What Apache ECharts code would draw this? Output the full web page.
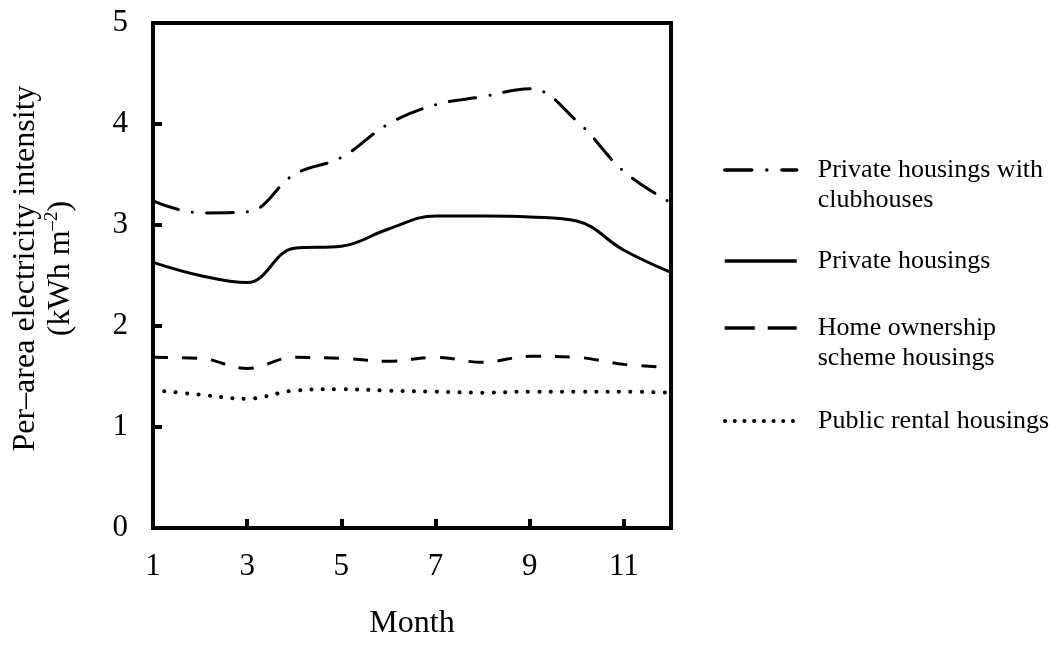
<!DOCTYPE html>
<html><head><meta charset="utf-8">
<script src="https://cdn.jsdelivr.net/npm/echarts@6/dist/echarts.min.js"></script>
<style>html,body{margin:0;padding:0;background:#fff}#c{width:1063px;height:645px}</style>
</head><body><div id="c"></div>
<script>
const months = ['1','2','3','4','5','6','7','8','9','10','11','12'];
const clubhouse = [3.24,3.12,3.13,3.50,3.67,4.00,4.19,4.27,4.35,4.03,3.53,3.22];
const privateH = [2.63,2.50,2.43,2.77,2.79,2.96,3.09,3.09,3.08,3.04,2.75,2.53];
const hos = [1.69,1.68,1.58,1.69,1.68,1.65,1.69,1.64,1.70,1.69,1.62,1.59];
const prh = [1.365,1.32,1.28,1.36,1.375,1.36,1.35,1.34,1.35,1.35,1.35,1.34];
const names = ['Private housings with clubhouses','Private housings','Home ownership scheme housings','Public rental housings'];
const legendLabels = [['Private housings with','clubhouses'],['Private housings'],['Home ownership','scheme housings'],['Public rental housings']];

const FONT = 'Liberation Serif';
const chart = echarts.init(document.getElementById('c'), null, {renderer:'canvas'});
const lineW = 3;
const styles = [
  {type:[27,14,0.1,14], cap:'round', width:lineW},
  {type:'solid', cap:'butt', width:lineW},
  {type:[15,14], cap:'butt', width:lineW},
  {type:[0.1,11.3], cap:'round', width:4}
];
const legendStyles = [
  {type:[27,15,0.1,15], cap:'round', width:3.5, color:'#000'},
  {type:'solid', cap:'butt', width:3.5, color:'#000'},
  {type:[30,13], cap:'butt', width:3.5, color:'#000'},
  {type:[0.1,9.6], cap:'round', width:4, color:'#000'}
];
const datas = [clubhouse, privateH, hos, prh];
const LH = 30;
// icon centre y for each legend entry
const legendCentres = [165, 256, 323, 416];
const legends = names.map((n,i)=>{
  const lines = legendLabels[i];
  const txt = lines.length > 1 ? '\n' + lines.join('\n') : lines[0];
  const h = lines.length > 1 ? 3*LH : LH;
  return {
    data:[n], left:718, top:legendCentres[i] - h/2, orient:'vertical',
    itemWidth:72, itemHeight:24, itemGap:0,
    formatter: ()=>txt,
    itemStyle:{opacity:0},
    lineStyle: legendStyles[i],
    textStyle:{fontFamily:FONT, fontSize:26, color:'#000', lineHeight:LH, padding:[0,0,0,16]},
    selectedMode:false
  };
});
chart.setOption({
  animation:false,
  backgroundColor:'#fff',
  grid:{left:153, top:23, width:518, height:511, show:true, borderColor:'#000', borderWidth:4, containLabel:false},
  legend: legends,
  xAxis:{
    type:'category', data:months, boundaryGap:false,
    name:'Month', nameLocation:'middle', nameGap:80,
    nameTextStyle:{fontFamily:FONT, fontSize:32, color:'#000'},
    axisLine:{lineStyle:{color:'#000', width:4}},
    axisTick:{inside:true, length:9, interval:1, lineStyle:{color:'#000', width:4}},
    axisLabel:{interval:1, margin:23, fontFamily:FONT, fontSize:31, color:'#000'},
    splitLine:{show:false}
  },
  yAxis:{
    type:'value', min:0, max:5, interval:1,
    name:'{a|Per–area electricity intensity}\n{a|(kWh m}{s|–2}{a|)}',
    nameLocation:'middle', nameGap:75, nameRotate:90,
    nameTextStyle:{fontFamily:FONT, fontSize:32, color:'#000', lineHeight:35, padding:[0,0,0,14],
      rich:{a:{fontFamily:FONT, fontSize:32, color:'#000', lineHeight:35},
            s:{fontFamily:FONT, fontSize:19, color:'#000', lineHeight:35, verticalAlign:'top', padding:[0,0,10,0]}}},
    axisLine:{show:true, lineStyle:{color:'#000', width:4}},
    axisTick:{show:true, inside:true, length:9, lineStyle:{color:'#000', width:4}},
    axisLabel:{margin:25, fontFamily:FONT, fontSize:31, color:'#000'},
    splitLine:{show:false}
  },
  series: names.map((n,i)=>({
    name:n, type:'line', data:datas[i], smooth:0.4, symbol:'none',
    lineStyle:Object.assign({color:'#000'}, styles[i]),
    itemStyle:{color:'#000'}
  }))
});
</script></body></html>
